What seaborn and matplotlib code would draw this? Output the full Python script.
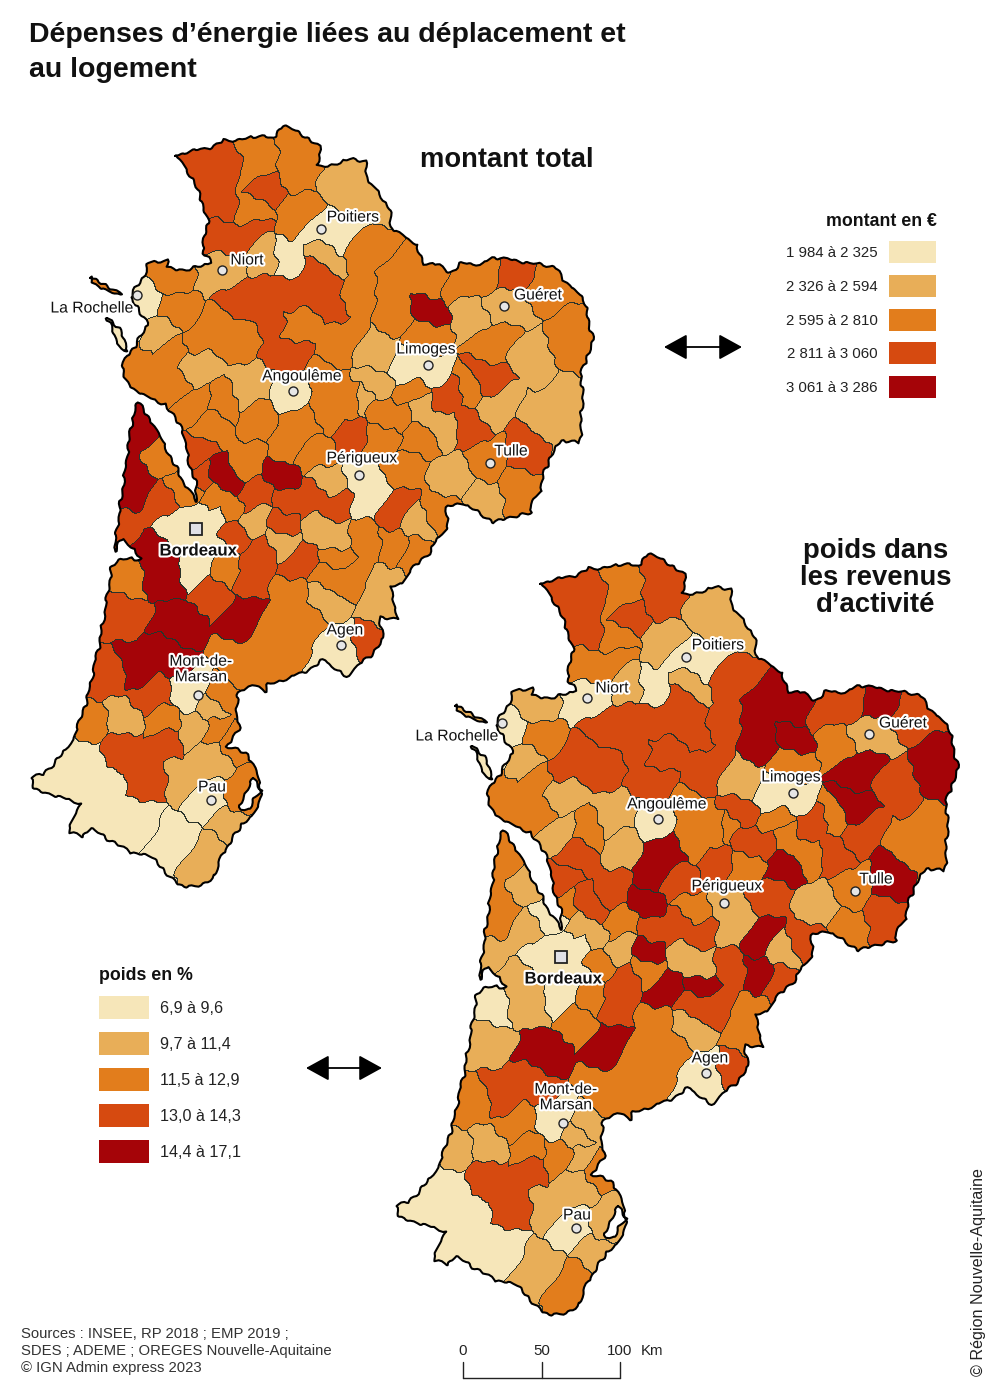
#!/usr/bin/env python3
# Depenses d'energie : two choropleth maps of the same zones, drawn as one heatmap

import numpy as np
import matplotlib
matplotlib.use('Agg')
import matplotlib.pyplot as plt
import matplotlib.patheffects as pe
from matplotlib.colors import ListedColormap
from matplotlib.patches import Rectangle
from matplotlib.path import Path
import seaborn as sns

# Data =========================================================================

# centre of each zone, in the frame of the upper map
ZONE_X = [213, 257, 293, 265, 300, 247, 220, 247, 321, 287,
          342, 323, 360, 360, 222, 263, 267, 317, 147, 167,
          177, 220, 160, 297, 290, 340, 173, 137, 245, 293,
          197, 170, 225, 195, 322, 425, 395, 428, 427, 378,
          375, 355, 504, 513, 547, 480, 460, 470, 493, 570,
          535, 485, 545, 497, 467, 490, 522, 517, 483, 450,
          445, 449, 421, 469, 416, 403, 365, 363, 383, 350,
          380, 407, 397, 418, 437, 363, 395, 413, 353, 387,
          380, 340, 370, 133, 163, 160, 125, 186, 180, 217,
          195, 200, 222, 213, 230, 253, 257, 200, 223, 257,
          233, 283, 283, 297, 322, 335, 333, 287, 283, 310,
          335, 327, 283, 250, 210, 257, 315, 333, 323, 290,
          307, 277, 243, 253, 213, 177, 163, 127, 123, 150,
          165, 135, 110, 87, 152, 193, 123, 160, 193, 210,
          223, 217, 233, 128, 165, 80, 150, 178, 210, 240,
          210, 229, 205, 175, 103, 60, 140, 140, 240,
          205, 225, 222, 255, 258, 295, 302, 345, 365, 345,
          430, 395, 125, 170, 195, 205, 335, 300, 365, 565,
          570, 578, 405, 410, 200, 240, 245, 285, 265, 330,
          315, 105, 118]
ZONE_Y = [183, 157, 160, 187, 213, 210, 237, 233, 229, 260,
          182, 257, 250, 295, 270, 257, 297, 290, 297, 280,
          310, 333, 337, 327, 350, 340, 350, 360, 388, 391,
          367, 385, 400, 405, 385, 368, 285, 312, 333, 355,
          385, 405, 306, 273, 283, 273, 283, 317, 340, 340,
          358, 380, 415, 405, 428, 456, 447, 493, 503, 478,
          424, 397, 410, 390, 441, 413, 482, 403, 413, 431,
          437, 467, 510, 523, 510, 540, 545, 553, 577, 583,
          607, 645, 643, 473, 457, 508, 522, 490, 523, 520,
          453, 477, 477, 500, 510, 497, 520, 567, 570, 557,
          530, 520, 543, 560, 533, 558, 573, 500, 473, 497,
          503, 483, 447, 460, 427, 423, 455, 415, 603, 593,
          623, 627, 613, 580, 593, 623, 577, 577, 613, 545,
          655, 668, 678, 720, 697, 693, 720, 723, 727, 710,
          697, 730, 737, 747, 742, 757, 782, 778, 760, 790,
          800, 825, 855, 840, 800, 785, 815, 425, 665,
          165, 165, 205, 148, 172, 140, 170, 165, 195, 235,
          280, 310, 495, 530, 515, 545, 535, 425, 500, 425,
          395, 355, 370, 395, 335, 335, 300, 290, 320, 300,
          272, 287, 335]
# class of each zone (0 to 4) in each map
MONTANT_CLASS = [3, 2, 2, 3, 2, 2, 3, 3, 0, 0,
                 1, 1, 2, 2, 1, 1, 3, 3, 0, 2,
                 2, 2, 1, 2, 3, 2, 2, 2, 1, 0,
                 1, 2, 2, 2, 2, 0, 2, 4, 2, 1,
                 1, 2, 1, 3, 2, 2, 2, 1, 2, 2,
                 1, 3, 1, 1, 3, 2, 3, 2, 1, 1,
                 1, 3, 1, 2, 2, 2, 0, 1, 2, 3,
                 2, 2, 3, 1, 2, 2, 2, 2, 2, 1,
                 1, 0, 3, 4, 2, 3, 3, 2, 0, 0,
                 3, 3, 4, 2, 2, 3, 1, 0, 2, 3,
                 3, 3, 1, 3, 1, 2, 2, 3, 4, 3,
                 3, 1, 2, 2, 2, 2, 2, 2, 1, 2,
                 2, 2, 4, 3, 3, 4, 4, 2, 3, 4,
                 4, 4, 3, 2, 3, 0, 1, 2, 1, 1,
                 2, 2, 2, 3, 3, 0, 3, 1, 1, 2,
                 0, 1, 1, 0, 0, 0, 0, 4, 2,
                 3, 3, 3, 2, 2, 2, 2, 1, 1, 0,
                 2, 2, 4, 0, 0, 0, 1, 2, 0, 1,
                 1, 2, 0, 2, 2, 2, 3, 3, 3, 3,
                 3, 2, 0]
POIDS_CLASS = [3, 2, 3, 3, 1, 2, 2, 2, 0, 0,
               1, 1, 3, 3, 0, 1, 3, 3, 0, 1,
               2, 3, 1, 3, 3, 3, 2, 2, 1, 0,
               1, 2, 2, 1, 2, 0, 4, 4, 2, 1,
               3, 2, 1, 4, 3, 3, 3, 2, 4, 4,
               3, 4, 2, 3, 3, 2, 4, 3, 2, 1,
               2, 3, 2, 2, 4, 3, 1, 2, 3, 3,
               2, 3, 4, 1, 3, 3, 4, 3, 3, 2,
               2, 0, 3, 2, 1, 1, 1, 0, 0, 0,
               3, 2, 3, 1, 1, 2, 1, 0, 2, 3,
               2, 4, 2, 4, 1, 4, 3, 3, 4, 3,
               3, 2, 4, 3, 3, 1, 3, 2, 1, 2,
               2, 2, 4, 3, 2, 4, 1, 0, 1, 1,
               3, 3, 2, 1, 2, 0, 1, 2, 2, 1,
               1, 1, 2, 3, 3, 0, 3, 1, 1, 1,
               0, 1, 2, 1, 0, 0, 0, 2, 2,
               3, 3, 3, 2, 2, 3, 3, 1, 1, 0,
               4, 4, 2, 0, 0, 0, 1, 4, 1, 2,
               2, 4, 0, 2, 3, 3, 3, 3, 3, 3,
               3, 1, 0]

# region border
OUTLINE_X = [175, 197, 212, 225, 237, 265, 272, 283, 300, 320, 318, 340, 352, 365, 368,
             390, 390, 402, 417, 423, 440, 450, 463, 480, 493, 530, 557, 563, 583, 588,
             593, 587, 580, 583, 580, 560, 543, 542, 530, 533, 510, 493, 480, 463, 447,
             447, 433, 430, 410, 403, 390, 398, 380, 383, 375, 363, 348, 338, 325, 305,
             268, 265, 258, 237, 237, 240, 227, 247, 257, 262, 253, 242, 228, 220, 217,
             207, 183, 163, 153, 130, 90, 83, 68, 80, 53, 35, 30, 43, 63, 73,
             87, 100, 110, 112, 120, 132, 142, 123, 114, 132, 138, 158, 172, 184, 197,
             196, 188, 183, 166, 143, 125, 123, 125, 135, 148, 130, 142, 148, 167, 167,
             187, 212, 202, 208, 195, 182]
OUTLINE_Y = [155, 150, 147, 140, 140, 135, 140, 125, 133, 147, 167, 163, 158, 162, 180,
             208, 227, 235, 245, 263, 265, 273, 262, 265, 257, 263, 267, 280, 297, 317,
             340, 360, 372, 387, 443, 440, 473, 490, 503, 513, 517, 523, 513, 503, 507,
             530, 543, 553, 570, 583, 588, 618, 618, 637, 653, 660, 677, 672, 659, 672,
             685, 692, 685, 692, 717, 727, 747, 753, 773, 793, 817, 823, 847, 857, 873,
             883, 888, 870, 857, 852, 828, 837, 832, 803, 795, 790, 777, 775, 753, 740,
             700, 640, 580, 565, 560, 558, 560, 538, 552, 420, 402, 432, 460, 483, 502,
             485, 458, 430, 405, 395, 382, 365, 358, 347, 323, 297, 280, 263, 260, 268,
             270, 262, 253, 220, 183, 163]
ILE_RE_X = [90, 97, 107, 122, 115, 103, 92]
ILE_RE_Y = [277, 280, 287, 293, 295, 288, 283]
OLERON_X = [107, 123, 127, 122, 113]
OLERON_Y = [317, 333, 353, 350, 333]
ENCLAVE_X = [253, 262, 252, 250, 240, 242, 247]
ENCLAVE_Y = [777, 793, 800, 810, 810, 800, 790]

MONTANT_LABELS = ['1 984 à 2 325', '2 326 à 2 594', '2 595 à 2 810', '2 811 à 3 060', '3 061 à 3 286']
POIDS_LABELS = ['6,9 à 9,6', '9,7 à 11,4', '11,5 à 12,9', '13,0 à 14,3', '14,4 à 17,1']

CITY_NAMES = ['Poitiers', 'Niort', 'La Rochelle', 'Guéret', 'Limoges', 'Angoulême',
              'Périgueux', 'Tulle', 'Agen', 'Mont-de-\nMarsan', 'Pau']
CITY_X = [321, 222, 137, 504, 428, 293, 359, 490, 341, 198, 211]
CITY_Y = [229, 270, 295, 306, 365, 391, 475, 463, 645, 695, 800]
LABEL_X = [352, 246, 91, 537, 425, 301, 361, 510, 344, 200, 211]
LABEL_Y = [217, 260, 308, 295, 349, 376, 458, 451, 630, 669, 787]

SCALE_KM = [0, 50, 100]

# Style ========================================================================

COLORS = ['#f6e6b9', '#e8ae58', '#e27d1c', '#d64a10', '#a50408']
BORDER = '#2a332b'
MAP_OFFSETS = [(0, 0), (365, 428)]
FONT = 'Liberation Sans'


def rough(xs, ys):
    # the border is typed with few vertices, give it a jagged look
    pts = np.column_stack([xs, ys]).astype(float)
    pts = np.vstack([pts, pts[:1]])
    seg = np.hypot(*np.diff(pts, axis=0).T)
    pos = np.r_[0, np.cumsum(seg)]
    t = np.arange(0, pos[-1], 2.5)
    x = np.interp(t, pos, pts[:, 0]) + 1.0 * np.sin(t / 2.3) + 0.8 * np.sin(t / 5.1)
    y = np.interp(t, pos, pts[:, 1]) + 1.0 * np.cos(t / 1.9) + 0.8 * np.sin(t / 4.3)
    return x, y


def in_shape(xs, ys, px, py):
    pts = np.column_stack([px.ravel(), py.ravel()])
    rx, ry = rough(xs, ys)
    return Path(np.column_stack([rx, ry])).contains_points(pts).reshape(px.shape)


def zone_grid(width, height):
    # nearest zone centre for each pixel, with wavy borders
    py, px = np.mgrid[0:height, 0:width] + 0.5
    wx = px + 3 * np.sin(py / 9) + 1.5 * np.sin(py / 3.5 + px / 5)
    wy = py + 3 * np.sin(px / 8) + 1.5 * np.sin(px / 3 + py / 6)
    best = np.full(px.shape, np.inf)
    nearest = np.zeros(px.shape, dtype=int)
    for i, (zx, zy) in enumerate(zip(ZONE_X, ZONE_Y)):
        dist = (wx - zx) ** 2 + (wy - zy) ** 2
        closer = dist < best
        best[closer] = dist[closer]
        nearest[closer] = i
    land = in_shape(OUTLINE_X, OUTLINE_Y, px, py)
    land |= in_shape(ILE_RE_X, ILE_RE_Y, px, py)
    land |= in_shape(OLERON_X, OLERON_Y, px, py)
    land &= ~in_shape(ENCLAVE_X, ENCLAVE_Y, px, py)
    return nearest, land


def draw_outline(ax, dx, dy):
    for xs, ys in ((OUTLINE_X, OUTLINE_Y), (ILE_RE_X, ILE_RE_Y), (OLERON_X, OLERON_Y), (ENCLAVE_X, ENCLAVE_Y)):
        rx, ry = rough(xs, ys)
        ax.plot(np.r_[rx, rx[0]] + dx, np.r_[ry, ry[0]] + dy, color='black', lw=1.5, solid_joinstyle='round')


def draw_cities(ax, dx, dy):
    halo = [pe.withStroke(linewidth=3, foreground='white')]
    for name, cx, cy, lx, ly in zip(CITY_NAMES, CITY_X, CITY_Y, LABEL_X, LABEL_Y):
        ax.plot(cx + dx, cy + dy, 'o', ms=6.5, mfc='#e6e6e6', mec='#222222', mew=1)
        ax.text(lx + dx + 1, ly + dy, name, ha='center', va='center', fontsize=11.3, linespacing=1.05,
                color='#111111', path_effects=halo)
    ax.plot(196 + dx, 529 + dy, 's', ms=8, mfc='#e0e0e6', mec='#222222', mew=1.3)
    ax.text(198 + dx, 551 + dy, 'Bordeaux', ha='center', va='center', fontsize=12.1, fontweight='bold',
            color='#111111', path_effects=halo)


def draw_legend(ax, title, labels, swatch_x, swatch_w, top, step, swatch_h, label_x, label_ha, title_x, title_ha, title_y, label_size):
    ax.text(title_x, title_y, title, ha=title_ha, va='center', fontsize=12.8, fontweight='bold', color='#111111')
    for i, label in enumerate(labels):
        ax.add_patch(Rectangle((swatch_x, top + i * step), swatch_w, swatch_h, fc=COLORS[i], ec='none'))
        ax.text(label_x, top + i * step + swatch_h / 2 + 1, label, ha=label_ha, va='center', fontsize=label_size, color='#222222')


def draw_arrow(ax, x0, x1, y):
    ax.annotate('', xy=(x0, y), xytext=(x1, y),
                arrowprops=dict(arrowstyle='<|-|>,head_length=1.0,head_width=0.55', mutation_scale=14.4,
                                color='black', lw=1.3, shrinkA=0, shrinkB=0))


def main():
    sns.set_theme(style='white')
    plt.rcParams['font.family'] = [FONT, 'DejaVu Sans']

    nearest, land = zone_grid(620, 900)
    montant = np.asarray(MONTANT_CLASS)
    poids = np.asarray(POIDS_CLASS)
    key = (montant * 5 + poids)[nearest]
    edge = np.zeros(key.shape, dtype=bool)
    edge[:, 1:] |= key[:, 1:] != key[:, :-1]
    edge[1:, :] |= key[1:, :] != key[:-1, :]

    grid = np.full((1400, 1000), np.nan)
    for values, (dx, dy) in zip((montant, poids), MAP_OFFSETS):
        layer = values[nearest].astype(float)
        layer[edge] = 5
        h, w = layer.shape
        h = min(h, 1400 - dy)
        window = grid[dy:dy + h, dx:dx + w]
        window[land[:h]] = layer[:h][land[:h]]

    fig = plt.figure(figsize=(10, 14), dpi=100)
    ax = fig.add_axes([0, 0, 1, 1])
    sns.heatmap(grid, ax=ax, cmap=ListedColormap(COLORS + [BORDER]), vmin=-0.5, vmax=5.5,
                cbar=False, xticklabels=False, yticklabels=False)
    ax.set_xlim(0, 1000)
    ax.set_ylim(1400, 0)
    ax.axis('off')

    for dx, dy in MAP_OFFSETS:
        draw_outline(ax, dx, dy)
    for dx, dy in MAP_OFFSETS:
        draw_cities(ax, dx, dy)

    ax.text(29, 35, 'Dépenses d’énergie liées au déplacement et', fontsize=20.5, fontweight='bold', va='center', color='#111111')
    ax.text(29, 70, 'au logement', fontsize=20.5, fontweight='bold', va='center', color='#111111')
    ax.text(507, 160, 'montant total', fontsize=19.7, fontweight='bold', ha='center', va='center', color='#111111')
    for text, y in zip(['poids dans', 'les revenus', 'd’activité'], [551, 578, 605]):
        ax.text(876, y, text, fontsize=19.8, fontweight='bold', ha='center', va='center', color='#111111')

    draw_legend(ax, 'montant en €', MONTANT_LABELS, 889, 47, 241, 33.8, 22, 878, 'right', 937, 'right', 221, 10.8)
    draw_legend(ax, 'poids en %', POIDS_LABELS, 99, 50, 996, 36, 23, 160, 'left', 99, 'left', 975, 11.6)
    draw_arrow(ax, 664, 742, 347)
    draw_arrow(ax, 306, 382, 1068)

    sources = ['Sources : INSEE, RP 2018 ; EMP 2019 ;', 'SDES ; ADEME ; OREGES Nouvelle-Aquitaine', '© IGN Admin express 2023']
    for text, y in zip(sources, [1334, 1351, 1368]):
        ax.text(21, y, text, fontsize=10.7, va='center', color='#333333')
    ax.text(978, 1272, '© Région Nouvelle-Aquitaine', fontsize=11.6, rotation=90, ha='center', va='center', color='#222222')

    # scale bar, 100 km is about 157 px
    for km in SCALE_KM:
        x = 463 + km * 1.57
        ax.plot([x, x], [1362, 1378], color='#222222', lw=1)
        ax.text(x, 1351, str(km), fontsize=10.8, ha='center', va='center', color='#222222')
    ax.plot([463, 620], [1378, 1378], color='#222222', lw=1)
    ax.text(652, 1351, 'Km', fontsize=10.8, ha='center', va='center', color='#222222')

    fig.savefig('out.png', dpi=100)


if __name__ == '__main__':
    main()
